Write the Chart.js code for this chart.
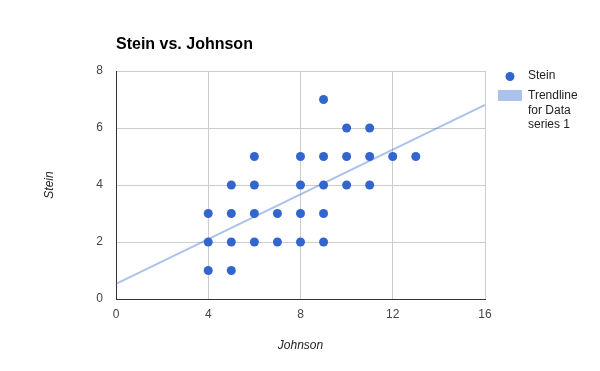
<!DOCTYPE html>
<html>
<head>
<meta charset="utf-8">
<script src="https://cdn.jsdelivr.net/npm/chart.js@4/dist/chart.umd.min.js"></script>
<style>
html,body{margin:0;padding:0;background:#fff;}
canvas{display:block;}
</style>
</head>
<body>
<canvas id="c" width="600" height="371"></canvas>
<script>
const chartTitle = "Stein vs. Johnson";
const xTitle = "Johnson";
const yTitle = "Stein";
const steinX = [4,4,4,5,5,5,5,6,6,6,6,7,7,8,8,8,8,9,9,9,9,9,10,10,10,11,11,11,12,13];
const steinY = [1,2,3,1,2,3,4,2,3,4,5,2,3,2,3,4,5,2,3,4,5,7,4,5,6,4,5,6,5,5];
const trendX = [0,16];
const trendY = [0.53,6.81];
const xTicks = [0,4,8,12,16];
const yTicks = [0,2,4,6,8];
const seriesLabel = "Stein";
const trendLabel = ["Trendline","for Data","series 1"];

const FONT = "Arial, 'Liberation Sans', sans-serif";
const dotColor = "#3366cc";
const trendColor = "rgba(51,102,204,0.4)";

const overlay = {
  id: 'overlay',
  afterDraw(chart) {
    const ctx = chart.ctx;
    const ca = chart.chartArea;
    ctx.save();
    // title
    ctx.fillStyle = "#000";
    ctx.font = "bold 16px " + FONT;
    ctx.textAlign = "left";
    ctx.textBaseline = "middle";
    ctx.fillText(chartTitle, ca.left, 45);
    // legend
    ctx.font = "12px " + FONT;
    ctx.fillStyle = dotColor;
    ctx.beginPath();
    ctx.arc(510, 76.5, 4.5, 0, Math.PI*2);
    ctx.fill();
    ctx.fillStyle = "#222";
    ctx.fillText(seriesLabel, 528, 76);
    ctx.fillStyle = trendColor;
    ctx.fillRect(498, 90, 24, 11);
    ctx.fillStyle = "#222";
    trendLabel.forEach((t,i) => ctx.fillText(t, 528, 96 + i*14.5));
    ctx.restore();
  }
};

new Chart(document.getElementById('c'), {
  type: 'scatter',
  data: {
    datasets: [
      {
        label: seriesLabel,
        data: steinX.map((x,i)=>({x:x, y:steinY[i]})),
        backgroundColor: dotColor,
        borderColor: dotColor,
        pointRadius: 4.5,
        pointHoverRadius: 4.5,
        borderWidth: 0,
        order: 1
      },
      {
        label: trendLabel.join(' '),
        data: trendX.map((x,i)=>({x:x, y:trendY[i]})),
        showLine: true,
        borderColor: trendColor,
        backgroundColor: trendColor,
        borderWidth: 2,
        pointRadius: 0,
        pointHoverRadius: 0,
        order: 2
      }
    ]
  },
  options: {
    responsive: false,
    animation: false,
    devicePixelRatio: 1,
    layout: { padding: { top: 71, right: 115, left: 0, bottom: 0 } },
    plugins: { legend: { display: false }, title: { display: false }, tooltip: { enabled: false } },
    scales: {
      x: {
        type: 'linear',
        min: 0, max: 16,
        afterBuildTicks: s => { s.ticks = xTicks.map(v=>({value:v})); },
        afterFit: s => { s.height = 72; },
        grid: { color: ctx => (ctx.tick && ctx.tick.value === 0) ? 'rgba(0,0,0,0)' : '#cccccc', drawTicks: false, lineWidth: 1 },
        border: { color: '#333333', width: 1 },
        ticks: { font: { family: FONT, size: 12 }, color: '#444', padding: 8, maxRotation: 0 },
        title: { display: true, text: xTitle, font: { family: FONT, size: 12, style: 'italic' }, color: '#222', padding: { top: 0, bottom: 18 } }
      },
      y: {
        type: 'linear',
        min: 0, max: 8,
        afterBuildTicks: s => { s.ticks = yTicks.map(v=>({value:v})); },
        afterFit: s => { s.width = 116; },
        grid: { color: ctx => (ctx.tick && ctx.tick.value === 0) ? 'rgba(0,0,0,0)' : '#cccccc', drawTicks: false, lineWidth: 1 },
        border: { color: '#333333', width: 1 },
        ticks: { font: { family: FONT, size: 12 }, color: '#444', padding: 13 },
        title: { display: true, text: yTitle, font: { family: FONT, size: 12, style: 'italic' }, color: '#222', padding: { top: 42, bottom: 0 } }
      }
    }
  },
  plugins: [overlay]
});
</script>
</body>
</html>
